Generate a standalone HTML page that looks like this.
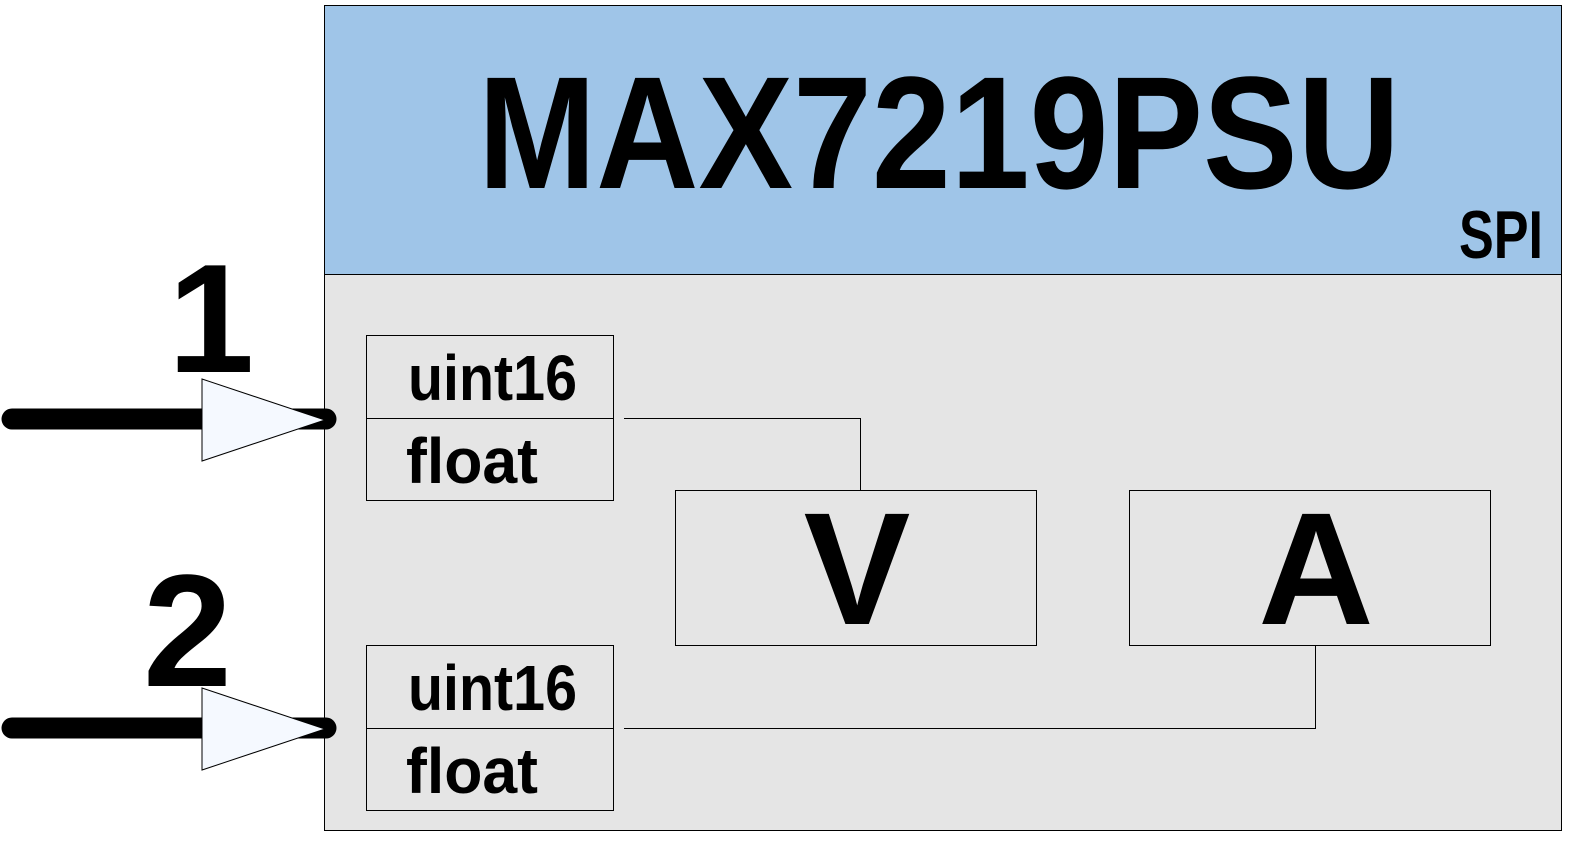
<!DOCTYPE html>
<html><head><style>html,body{margin:0;padding:0;background:#fff;}svg{display:block}</style></head><body>
<svg width="1578" height="842" viewBox="0 0 1578 842" xmlns="http://www.w3.org/2000/svg" font-family="Liberation Sans, DejaVu Sans, sans-serif" font-weight="bold">
<rect x="324.5" y="5.5" width="1237" height="269" fill="#9fc5e8" stroke="#000" stroke-width="1"/>
<rect x="324.5" y="274.5" width="1237" height="556" fill="#e5e5e5" stroke="#000" stroke-width="1"/>
<text x="478" y="188" font-size="160" textLength="922" lengthAdjust="spacingAndGlyphs">MAX7219PSU</text>
<text x="1459" y="258" font-size="68" textLength="84" lengthAdjust="spacingAndGlyphs">SPI</text>
<!-- pins -->
<line x1="12" y1="419" x2="326" y2="419" stroke="#000" stroke-width="21" stroke-linecap="round"/>
<polygon points="202,379 325,420 202,461" fill="#f5f9ff" stroke="#000" stroke-width="1"/>
<text x="168" y="372" font-size="155">1</text>
<line x1="12" y1="728" x2="326" y2="728" stroke="#000" stroke-width="21" stroke-linecap="round"/>
<polygon points="202,688 325,729 202,770" fill="#f5f9ff" stroke="#000" stroke-width="1"/>
<text x="143" y="686" font-size="160">2</text>
<!-- type boxes -->
<g fill="none" stroke="#000" stroke-width="1">
<rect x="366.5" y="335.5" width="247" height="165"/>
<line x1="366" y1="418.5" x2="613" y2="418.5"/>
<rect x="366.5" y="645.5" width="247" height="165"/>
<line x1="366" y1="728.5" x2="613" y2="728.5"/>
<rect x="675.5" y="490.5" width="361" height="155"/>
<rect x="1129.5" y="490.5" width="361" height="155"/>
<polyline points="624,418.5 860.5,418.5 860.5,490"/>
<polyline points="624,728.5 1315.5,728.5 1315.5,645"/>
</g>
<g font-size="64">
<text x="408" y="400" textLength="169" lengthAdjust="spacingAndGlyphs">uint16</text>
<text x="406" y="483" textLength="132" lengthAdjust="spacingAndGlyphs">float</text>
<text x="408" y="710" textLength="169" lengthAdjust="spacingAndGlyphs">uint16</text>
<text x="406" y="793" textLength="132" lengthAdjust="spacingAndGlyphs">float</text>
</g>
<text x="857" y="624" font-size="160" text-anchor="middle">V</text>
<text x="1316" y="624" font-size="160" text-anchor="middle">A</text>
</svg>
</body></html>
